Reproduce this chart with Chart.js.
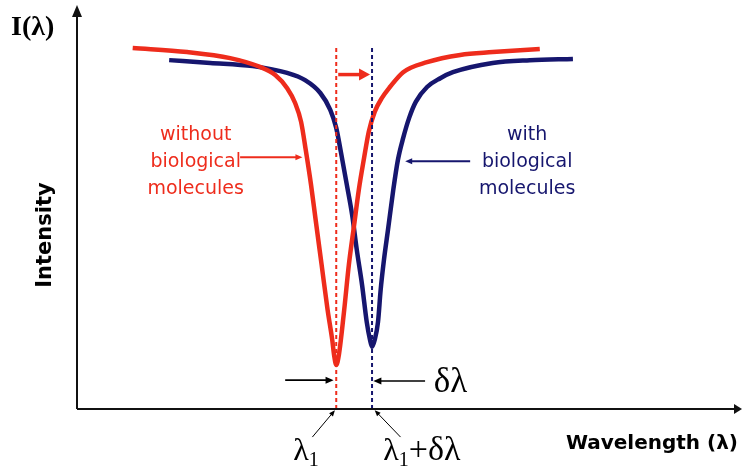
<!DOCTYPE html>
<html>
<head>
<meta charset="utf-8">
<script src="https://cdn.jsdelivr.net/npm/chart.js@4.4.0/dist/chart.umd.min.js"></script>
<style>
    html, body { margin: 0; padding: 0; background: #fff; }
    #wrap { width: 742px; height: 475px; }
</style>
</head>
<body>
<div id="wrap"><canvas id="chart" width="742" height="475"></canvas></div>
<script>
// wavelength (arbitrary units) and intensity (arbitrary units)
const redX = [8.4, 16.6, 23.1, 27.6, 29.9, 31.7, 32.9, 33.8, 34.5, 35.3, 36.0, 36.9, 37.8, 38.5, 38.8, 39.1,
              39.5, 40.3, 41.0, 41.8, 42.5, 43.3, 44.0, 44.9, 46.0, 47.2, 49.2, 52.8, 57.8, 62.7, 69.8];
const redY = [90.0, 89.0, 87.5, 85.3, 83.3, 80.0, 76.3, 71.6, 64.6, 55.9, 47.1, 35.9, 24.7, 17.2, 13.2, 11.0,
              13.5, 24.7, 35.9, 45.9, 54.6, 62.6, 69.1, 74.1, 77.6, 80.3, 84.0, 86.5, 88.3, 89.0, 89.8];

const blueX = [13.9, 20.1, 26.5, 31.7, 34.4, 36.7, 38.2, 39.1, 39.8, 40.7, 41.5, 42.2, 43.0, 43.7, 44.2, 44.5,
               44.9, 45.4, 45.8, 46.3, 46.9, 47.7, 48.4, 49.2, 50.1, 51.1, 52.8, 54.8, 56.7, 62.7, 68.3, 74.8];
const blueY = [87.0, 86.3, 85.5, 83.8, 82.0, 78.8, 74.6, 70.1, 64.1, 55.9, 48.4, 39.7, 30.9, 21.7, 17.2, 15.5,
               17.2, 21.7, 29.7, 37.2, 44.6, 54.6, 62.1, 67.6, 72.6, 76.6, 80.3, 82.5, 84.0, 86.3, 87.0, 87.3];

// resonance positions
const lambda1 = 39.1;
const lambda2 = 44.5;
const markerTop = 90.8;

const red = "#ee2c1c";
const navy = "#16166e";

function toPoints(xs, ys) {
    return xs.map((x, i) => ({ x: x, y: ys[i] }));
}

function drawArrow(ctx, x1, y1, x2, y2, color, width, headLen, headWidth) {
    const ang = Math.atan2(y2 - y1, x2 - x1);
    ctx.save();
    ctx.strokeStyle = color;
    ctx.fillStyle = color;
    ctx.lineWidth = width;
    ctx.beginPath();
    ctx.moveTo(x1, y1);
    ctx.lineTo(x2 - Math.cos(ang) * headLen * 0.8, y2 - Math.sin(ang) * headLen * 0.8);
    ctx.stroke();
    ctx.translate(x2, y2);
    ctx.rotate(ang);
    ctx.beginPath();
    ctx.moveTo(0, 0);
    ctx.lineTo(-headLen, -headWidth / 2);
    ctx.lineTo(-headLen, headWidth / 2);
    ctx.closePath();
    ctx.fill();
    ctx.restore();
}

const annotations = {
    id: "annotations",
    afterDraw(chart) {
        const ctx = chart.ctx;
        const xs = chart.scales.x;
        const ys = chart.scales.y;
        const px = v => xs.getPixelForValue(v);
        const py = v => ys.getPixelForValue(v);
        const a = chart.chartArea;

        // axes with arrow heads
        ctx.save();
        ctx.strokeStyle = "#111";
        ctx.lineWidth = 2;
        ctx.beginPath();
        ctx.moveTo(a.left, a.bottom);
        ctx.lineTo(a.right - 4, a.bottom);
        ctx.stroke();
        ctx.beginPath();
        ctx.moveTo(a.left, a.bottom);
        ctx.lineTo(a.left, a.top + 6);
        ctx.stroke();
        ctx.restore();
        drawArrow(ctx, a.left, a.top + 10, a.left, a.top - 3, "#111", 2, 12, 10);
        drawArrow(ctx, a.right - 8, a.bottom, a.right + 2, a.bottom, "#111", 2, 8, 10);

        // shift arrow
        drawArrow(ctx, px(39.4), py(83.4), px(44.2), py(83.4), red, 3.5, 11, 12);

        // pointer arrows for the labels
        drawArrow(ctx, px(24.6), py(62.8), px(34.0), py(62.8), red, 2, 7, 6);
        drawArrow(ctx, px(59.3), py(61.8), px(49.5), py(61.8), navy, 2, 7, 6);

        // delta lambda arrows
        drawArrow(ctx, px(31.4), py(7.2), px(38.7), py(7.2), "#000", 1.6, 8, 7);
        drawArrow(ctx, px(52.5), py(7.0), px(44.7), py(7.0), "#000", 1.6, 8, 7);

        // lambda pointers below the axis
        drawArrow(ctx, px(35.5), py(-7), px(38.9), py(-0.3), "#000", 1, 6, 5);
        drawArrow(ctx, px(48.8), py(-7), px(44.9), py(-0.3), "#000", 1, 6, 5);

        ctx.save();
        ctx.textBaseline = "alphabetic";

        // curve labels
        ctx.font = "19px 'DejaVu Sans'";
        ctx.textAlign = "center";
        ctx.fillStyle = red;
        ctx.fillText("without", px(17.9), py(67.0));
        ctx.fillText("biological", px(17.9), py(60.3));
        ctx.fillText("molecules", px(17.9), py(53.6));
        ctx.fillStyle = navy;
        ctx.fillText("with", px(67.9), py(67.0));
        ctx.fillText("biological", px(67.9), py(60.3));
        ctx.fillText("molecules", px(67.9), py(53.6));

        // delta lambda
        ctx.fillStyle = "#000";
        ctx.textAlign = "left";
        ctx.font = "35px 'Liberation Serif'";
        ctx.fillText("δλ", px(53.8), py(4.2));

        // lambda labels
        let x0 = px(32.6);
        const yb = py(-12.7);
        ctx.font = "32px 'Liberation Serif'";
        ctx.fillText("λ", x0, yb);
        x0 += ctx.measureText("λ").width;
        ctx.font = "20px 'Liberation Serif'";
        ctx.fillText("1", x0, yb + 6);

        x0 = px(46.2);
        ctx.font = "32px 'Liberation Serif'";
        ctx.fillText("λ", x0, yb);
        x0 += ctx.measureText("λ").width;
        ctx.font = "20px 'Liberation Serif'";
        ctx.fillText("1", x0, yb + 6);
        x0 += ctx.measureText("1").width;
        ctx.font = "34px 'Liberation Serif'";
        ctx.fillText("+δλ", x0, yb);

        // axis titles
        ctx.font = "bold 28px 'Liberation Serif'";
        ctx.fillText("I(λ)", 11, 35);

        ctx.font = "bold 20px 'DejaVu Sans'";
        ctx.textAlign = "right";
        ctx.fillText("Wavelength (λ)", 738, 449);

        ctx.translate(51, 235);
        ctx.rotate(-Math.PI / 2);
        ctx.textAlign = "center";
        ctx.font = "bold 21px 'DejaVu Sans'";
        ctx.fillText("Intensity", 0, 0);
        ctx.restore();
    }
};

new Chart(document.getElementById("chart"), {
    type: "line",
    data: {
        datasets: [
            {
                data: [{ x: lambda1, y: 0 }, { x: lambda1, y: markerTop }],
                borderColor: red,
                borderWidth: 2,
                borderDash: [4, 3],
                pointRadius: 0
            },
            {
                data: [{ x: lambda2, y: 0 }, { x: lambda2, y: markerTop }],
                borderColor: navy,
                borderWidth: 2,
                borderDash: [4, 3],
                pointRadius: 0
            },
            {
                label: "without biological molecules",
                data: toPoints(redX, redY),
                borderColor: red,
                borderWidth: 4.5,
                pointRadius: 0,
                cubicInterpolationMode: "monotone"
            },
            {
                label: "with biological molecules",
                data: toPoints(blueX, blueY),
                borderColor: navy,
                borderWidth: 4.5,
                pointRadius: 0,
                cubicInterpolationMode: "monotone"
            }
        ]
    },
    options: {
        responsive: false,
        animation: false,
        devicePixelRatio: 1,
        layout: { padding: { left: 77, right: 2, top: 8, bottom: 66 } },
        plugins: {
            legend: { display: false },
            tooltip: { enabled: false }
        },
        scales: {
            x: { type: "linear", min: 0, max: 100, display: false },
            y: { type: "linear", min: 0, max: 100, display: false }
        }
    },
    plugins: [annotations]
});
</script>
</body>
</html>
